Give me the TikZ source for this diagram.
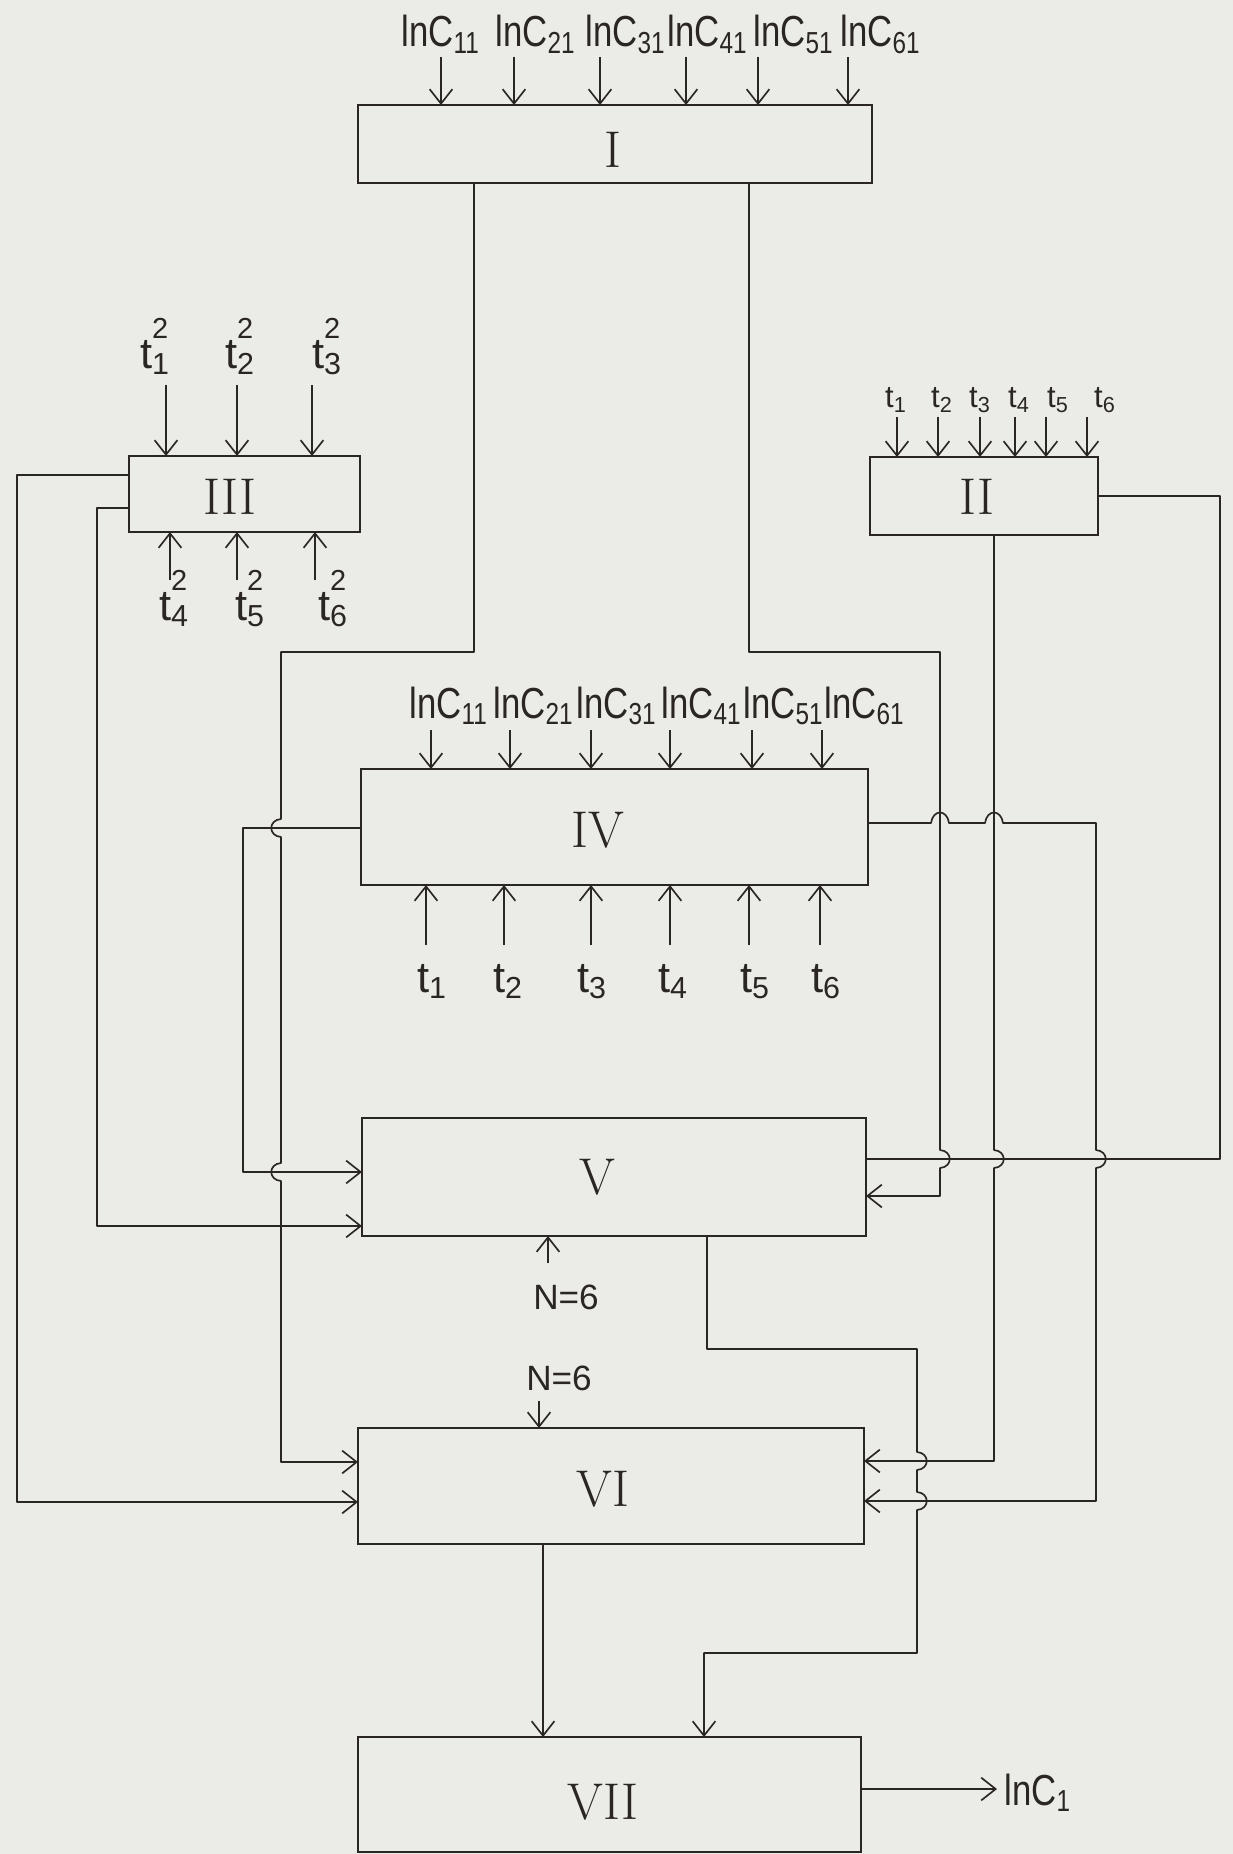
\documentclass[tikz,border=0pt]{standalone}
\usepackage{fontspec}
\usepackage{graphicx}
\setsansfont{Liberation Sans}
\usetikzlibrary{arrows.meta}
\definecolor{paper}{RGB}{235,235,231}
\definecolor{ink}{RGB}{42,38,34}
\newcommand{\lnc}[1]{\scalebox{0.8}[1]{lnC\textsubscript{#1}}}
\newcommand{\tsub}[1]{t\textsubscript{#1}}
\newcommand{\tsq}[1]{t\rlap{\raisebox{0.68em}{\fontsize{14}{14}\selectfont 2}}\textsubscript{#1}}
\begin{document}
\begin{tikzpicture}[x=0.017cm,y=-0.017cm,
  box/.style={draw=ink,line width=1.4pt,inner sep=0pt,outer sep=0pt},
  wire/.style={draw=ink,line width=0.8pt,line join=round},
  arr/.style={wire,-{Straight Barb[length=7pt,width=11pt,line width=0.8pt]}},
  num/.style={font=\fontsize{25}{27}\selectfont,text=ink,inner sep=0pt},
  lab/.style={font=\sffamily\fontsize{21}{23}\selectfont,text=ink,inner sep=0pt},
  slab/.style={font=\sffamily\fontsize{15}{17}\selectfont,text=ink,inner sep=0pt},
  vbr/.style args={#1/#2}{insert path={-- (#1,#2-9) .. controls (#1+13,#2-8) and (#1+13,#2+8) .. (#1,#2+9)}},
  vbl/.style args={#1/#2}{insert path={-- (#1,#2-9) .. controls (#1-13,#2-8) and (#1-13,#2+8) .. (#1,#2+9)}},
  hb/.style args={#1/#2}{insert path={-- (#1-9,#2) .. controls (#1-7,#2-14) and (#1+7,#2-14) .. (#1+9,#2)}},
]
\fill[paper] (0,0) rectangle (1233,1854);
\useasboundingbox (0,0) rectangle (1233,1854);

% boxes
\node[box,minimum width=8.738cm,minimum height=1.326cm] (I) at (615,144) {};
\node[box,minimum width=3.927cm,minimum height=1.292cm] (III) at (244.5,494) {};
\node[box,minimum width=3.876cm,minimum height=1.326cm] (II) at (984,496) {};
\node[box,minimum width=8.619cm,minimum height=1.972cm] (IV) at (614.5,827) {};
\node[box,minimum width=8.568cm,minimum height=2.006cm] (V) at (614,1177) {};
\node[box,minimum width=8.602cm,minimum height=1.972cm] (VI) at (611,1486) {};
\node[box,minimum width=8.551cm,minimum height=1.955cm] (VII) at (609.5,1794.5) {};

\node[num] (tI) at (613,150) {I};
\node[num] (tII) at (977,497) {II};
\node[num] (tIII) at (230,497) {III};
\node[num] (tIV) at (598,830) {IV};
\node[num] (tV) at (597,1177) {V};
\node[num] (tVI) at (603,1489) {VI};
\node[num] (tVII) at (603,1802) {VII};

% inputs of I
\foreach \x/\lx/\s [count=\i] in {441/401/11,514/495/21,600/585/31,686/667/41,758/753/51,848/840/61}{
  \node[lab,anchor=base west] (ia\i) at (\lx,47) {\lnc{\s}};
  \coordinate (ias\i) at (\x,57);
  \draw[arr] (ias\i) -- (ias\i |- I.north);
}
% inputs of IV (top)
\foreach \x/\lx/\s [count=\i] in {431/409/11,510/493/21,591/576/31,670/661/41,752/743/51,822/824/61}{
  \node[lab,anchor=base west] (iv\i) at (\lx,718) {\lnc{\s}};
  \coordinate (ivs\i) at (\x,730);
  \draw[arr] (ivs\i) -- (ivs\i |- IV.north);
}
% inputs of IV (bottom)
\foreach \x/\lx [count=\i] in {426/432,504/508,591/592,670/673,749/755,820/826}{
  \node[lab,anchor=base] (it\i) at (\lx,992) {\tsub{\i}};
  \coordinate (its\i) at (\x,945);
  \draw[arr] (its\i) -- (its\i |- IV.south);
}
% inputs of III
\foreach \x/\lx [count=\i] in {166/155,237/240,312/327}{
  \node[lab,anchor=base] (q\i) at (\lx,368) {\tsq{\i}};
  \coordinate (qs\i) at (\x,385);
  \draw[arr] (qs\i) -- (qs\i |- III.north);
}
\foreach \x/\lx/\k [count=\i] in {170/174/4,237/250/5,315/333/6}{
  \node[lab,anchor=base] (qb\i) at (\lx,620) {\tsq{\k}};
  \coordinate (qbs\i) at (\x,580);
  \draw[arr] (qbs\i) -- (qbs\i |- III.south);
}
% inputs of II
\foreach \x/\lx [count=\i] in {897/896,938/942,980/980,1015/1019,1046/1058,1087/1105}{
  \node[slab,anchor=base] (p\i) at (\lx,408) {\tsub{\i}};
  \coordinate (ps\i) at (\x,417);
  \draw[arr] (ps\i) -- (ps\i |- II.north);
}
% N=6
\node[slab,font=\sffamily\fontsize{17}{19}\selectfont] (n1) at (566,1297) {N=6};
\coordinate (n1s) at (548,1263);
\draw[arr] (n1s) -- (n1s |- V.south);
\node[slab,font=\sffamily\fontsize{17}{19}\selectfont] (n2) at (559,1378) {N=6};
\coordinate (n2s) at (539,1401);
\draw[arr] (n2s) -- (n2s |- VI.north);

% connectors
\draw[arr] (I.south -| 474,0) -- (474,652) -- (281,652) [vbl=281/828] [vbl=281/1172] -- (281,1462) -- (VI.west |- 0,1462);
\draw[arr] (I.south -| 749,0) -- (749,652) -- (940,652) [vbr=940/1159] -- (940,1196) -- (V.east |- 0,1196);
\draw[arr] (II.south -| 994,0) [vbr=994/1159] -- (994,1461) -- (VI.east |- 0,1461);
\draw[wire] (II.east) -- (1220,496) -- (1220,1159) -- (V.east |- 0,1159);
\draw[arr] (IV.east |- 0,823) [hb=940/823] [hb=994/823] -- (1096,823) [vbr=1096/1159] -- (1096,1501) -- (VI.east |- 0,1501);
\draw[arr] (IV.west |- 0,828) -- (243,828) -- (243,1172) -- (V.west |- 0,1172);
\draw[arr] (III.west |- 0,475) -- (17,475) -- (17,1502) -- (VI.west |- 0,1502);
\draw[arr] (III.west |- 0,508) -- (97,508) -- (97,1226) -- (V.west |- 0,1226);
\draw[arr] (V.south -| 707,0) -- (707,1349) -- (917,1349) [vbr=917/1461] [vbr=917/1501] -- (917,1653) -- (704,1653) -- (VII.north -| 704,0);
\draw[arr] (VI.south -| 543,0) -- (VII.north -| 543,0);
\coordinate (out) at (997,1789);
\draw[arr] (VII.east |- out) -- (out);
\node[lab,anchor=base west] (lout) at (1004,1805) {\lnc{1}};
\end{tikzpicture}
\end{document}
